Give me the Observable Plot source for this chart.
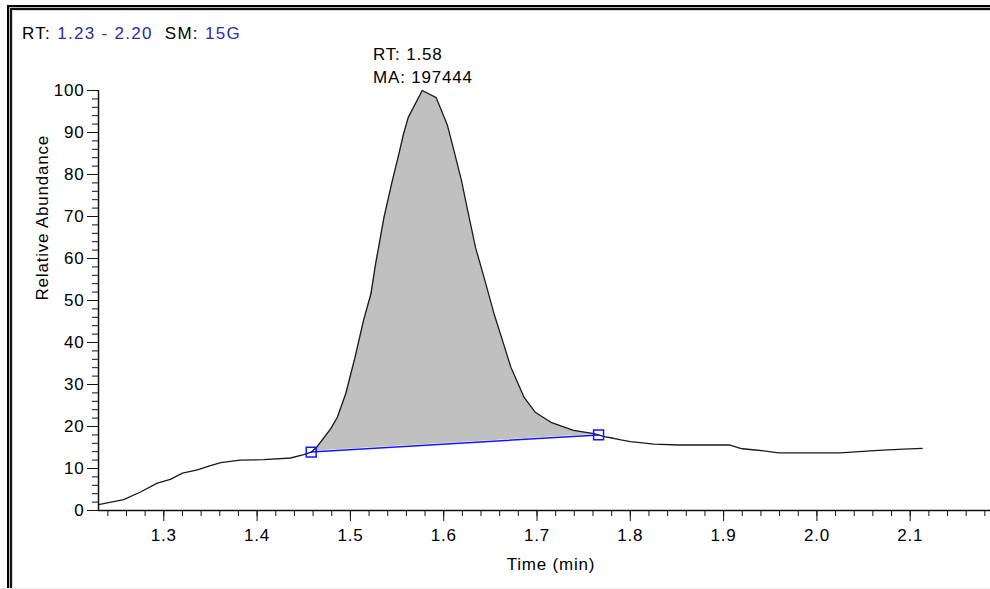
<!DOCTYPE html>
<html>
<head>
<meta charset="utf-8">
<script src="https://cdn.jsdelivr.net/npm/d3@7"></script>
<script src="https://cdn.jsdelivr.net/npm/@observablehq/plot@0.6"></script>
<style>
  html, body { margin: 0; padding: 0; background: #fff; overflow: hidden; }
  #wrap { position: relative; width: 990px; height: 589px; overflow: hidden; background: #fff;
          font-family: "Liberation Sans", Arial, sans-serif; }
  #wrap svg { position: absolute; left: 0; top: 0; max-width: none !important; width: 1003px !important; height: 589px !important; }
  .bl { position: absolute; }
  #header { position: absolute; left: 22px; top: 25px; font-size: 17px; line-height: 17px;
            letter-spacing: 1.3px; white-space: pre; color: #000; }
  #header .v { color: #2a2aad; }
</style>
</head>
<body>
<div id="wrap">
  <div id="header"></div>
</div>
<script>
// ---- data ----
const times = [1.230,1.257,1.275,1.293,1.307,1.320,1.336,1.350,1.361,1.382,1.407,1.436,1.450,1.458,1.464,1.479,1.486,1.495,1.505,1.514,1.522,1.527,1.536,1.545,1.552,1.557,1.562,1.577,1.592,1.604,1.611,1.619,1.625,1.634,1.643,1.654,1.663,1.672,1.686,1.698,1.715,1.739,1.761,1.766,1.772,1.782,1.790,1.800,1.813,1.825,1.852,1.906,1.920,1.934,1.947,1.959,2.025,2.066,2.093,2.113];
const abundance = [1.4,2.6,4.4,6.5,7.4,8.9,9.7,10.7,11.4,12.0,12.1,12.5,13.3,13.9,15.1,19.5,22.2,27.8,36.5,45.2,51.6,58.7,69.8,78.6,84.9,89.7,93.6,100,98.3,91.7,85.7,78.6,72.2,62.7,55.7,46.8,40.5,34.1,27.0,23.4,21.0,19.1,18.3,18.0,17.6,17.2,16.8,16.4,16.1,15.8,15.6,15.6,14.7,14.4,14.1,13.7,13.7,14.3,14.6,14.8];
const baselineTimes = [1.458, 1.766];
const baselineAbund = [13.9, 18.0];
const peakRT = 1.58;
const peakArea = 197444;
const rtRange = ["1.23", "2.20"];
const smoothing = "15G";
const xMajorTicks = [1.3, 1.4, 1.5, 1.6, 1.7, 1.8, 1.9, 2.0, 2.1];
const yMajorTicks = [0, 10, 20, 30, 40, 50, 60, 70, 80, 90, 100];
const xMinorTicks = d3.range(124, 221, 2).map(d => d / 100);
const yMinorTicks = d3.range(0, 101, 2);
const xLabel = "Time (min)";
const yLabel = "Relative Abundance";

// ---- build tables ----
const pts = times.map((t, i) => ({t, v: abundance[i]}));
const base = baselineTimes.map((t, i) => ({t, v: baselineAbund[i]}));
const peakPts = pts.filter(d => d.t >= baselineTimes[0] && d.t <= baselineTimes[1]);

// header
document.getElementById("header").innerHTML =
  `RT: <span class="v">${rtRange[0]} - ${rtRange[1]}</span>  SM: <span class="v">${smoothing}</span>`;

const font = "'Liberation Sans', Arial, sans-serif";
const chart = Plot.plot({
  width: 1003,
  height: 589,
  marginLeft: 98,
  marginRight: 0,
  marginTop: 90,
  marginBottom: 79,
  style: {fontFamily: font, fontSize: "17px", letterSpacing: "0.8px", background: "transparent", color: "#000", overflow: "visible", maxWidth: "none"},
  x: {domain: [+rtRange[0], +rtRange[1]]},
  y: {domain: [0, 100]},
  marks: [
    Plot.areaY(peakPts, {x: "t", y: "v", fill: "#c0c0c0"}),
    Plot.areaY(base, {x: "t", y: "v", fill: "#ffffff", stroke: "#ffffff", strokeWidth: 1.5}),
    Plot.line(pts, {x: "t", y: "v", stroke: "#1a1a1a", strokeWidth: 1.3}),
    Plot.line(base, {x: "t", y: "v", stroke: "#1414ff", strokeWidth: 1.5}),
    Plot.dot(base, {x: "t", y: "v", symbol: "square", r: 5.6, stroke: "#1414ff", fill: "none", strokeWidth: 1.5}),
    Plot.axisX(xMinorTicks, {tickSize: 6, tickFormat: () => "", label: null, stroke: "#111"}),
    Plot.axisX(xMajorTicks, {tickSize: 11, tickPadding: 7, tickFormat: d => d.toFixed(1), label: null, fontSize: 17, stroke: "#111", fill: "#000"}),
    Plot.axisY(yMinorTicks, {tickSize: 6, tickFormat: () => "", label: null, stroke: "#111"}),
    Plot.axisY(yMajorTicks, {tickSize: 11, tickPadding: 3, tickFormat: d => String(d), label: null, fontSize: 17, stroke: "#111", fill: "#000"}),
    Plot.ruleY([0], {stroke: "#111", strokeWidth: 1.5}),
    Plot.ruleX([+rtRange[0]], {y1: 0, y2: 100, stroke: "#111", strokeWidth: 1.5}),
    Plot.text([`RT: ${peakRT.toFixed(2)}\nMA: ${peakArea}`], {x: peakRT, y: 100, textAnchor: "start", lineAnchor: "bottom", lineHeight: 1.35, dx: -52, dy: -8, fontSize: 17, fill: "#000"}),
    Plot.text([yLabel], {frameAnchor: "left", rotate: -90, dx: -56, lineAnchor: "middle", fontSize: 17, fill: "#000"}),
    Plot.text([xLabel], {frameAnchor: "bottom", dy: 54, lineAnchor: "middle", fontSize: 17, fill: "#000"})
  ]
});
const wrap = document.getElementById("wrap");
wrap.insertBefore(chart, wrap.firstChild);

// frame border (double line, top and left)
const lines = [
  {l: 7, t: 5, w: 983, h: 2, c: "#000"},
  {l: 9, t: 7, w: 981, h: 1, c: "#bdbdbd"},
  {l: 10, t: 8, w: 980, h: 2, c: "#111"},
  {l: 12, t: 10, w: 978, h: 1, c: "#d8d8d8"},
  {l: 7, t: 5, w: 2, h: 584, c: "#000"},
  {l: 9, t: 7, w: 1, h: 582, c: "#bdbdbd"},
  {l: 10, t: 8, w: 2, h: 581, c: "#111"},
  {l: 12, t: 10, w: 1, h: 579, c: "#d8d8d8"},
  {l: 0, t: 588, w: 990, h: 1, c: "#ececec"}
];
for (const b of lines) {
  const d = document.createElement("div");
  d.className = "bl";
  Object.assign(d.style, {left: b.l + "px", top: b.t + "px", width: b.w + "px", height: b.h + "px", background: b.c});
  wrap.appendChild(d);
}
</script>
</body>
</html>
